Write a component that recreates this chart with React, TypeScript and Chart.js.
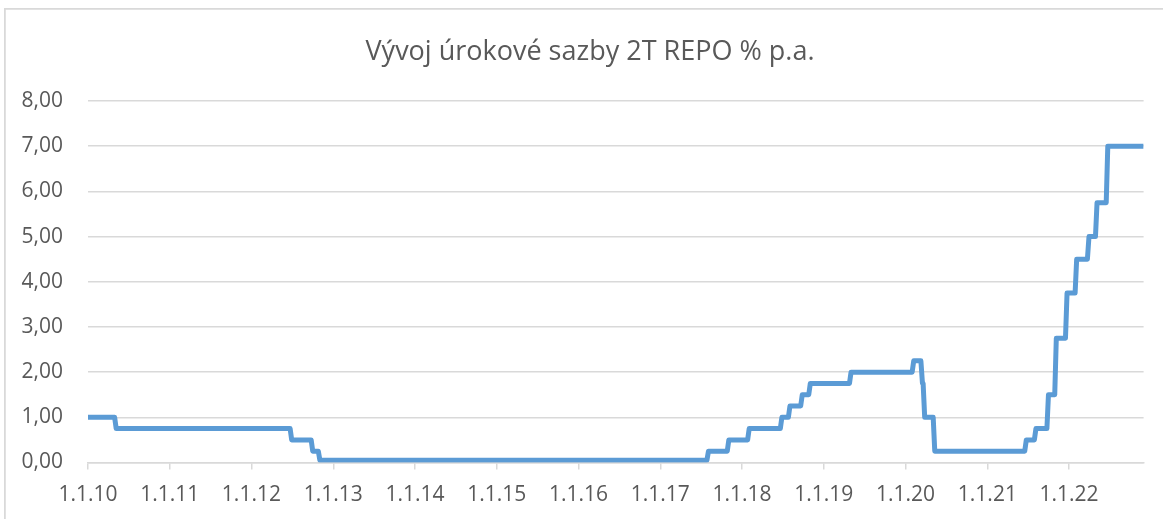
import React, { useEffect, useRef } from 'react';
import { Chart, registerables } from 'chart.js';

Chart.register(...registerables);

// ---- data ----
const chartTitle = 'Vývoj úrokové sazby 2T REPO % p.a.';
const changeDates = [
  '2010-01-01', '2010-05-07', '2012-06-29', '2012-10-01', '2012-11-02',
  '2017-08-04', '2017-11-03', '2018-02-02', '2018-06-28', '2018-08-03',
  '2018-09-27', '2018-11-02', '2019-05-03', '2020-02-07', '2020-03-17',
  '2020-03-27', '2020-05-11', '2021-06-24', '2021-08-06', '2021-10-01',
  '2021-11-05', '2021-12-23', '2022-02-04', '2022-03-31', '2022-05-06',
  '2022-06-23',
];
const repoRates = [
  1.0, 0.75, 0.5, 0.25, 0.05,
  0.25, 0.5, 0.75, 1.0, 1.25,
  1.5, 1.75, 2.0, 2.25, 1.75,
  1.0, 0.25, 0.5, 0.75, 1.5,
  2.75, 3.75, 4.5, 5.0, 5.75,
  7.0,
];
const endDate = '2022-11-30';
const yearTickDates = [
  '2010-01-01', '2011-01-01', '2012-01-01', '2013-01-01', '2014-01-01',
  '2015-01-01', '2016-01-01', '2017-01-01', '2018-01-01', '2019-01-01',
  '2020-01-01', '2021-01-01', '2022-01-01',
];
const xTickLabels = [
  '1.1.10', '1.1.11', '1.1.12', '1.1.13', '1.1.14', '1.1.15', '1.1.16',
  '1.1.17', '1.1.18', '1.1.19', '1.1.20', '1.1.21', '1.1.22',
];
const yTickValues = [0, 1, 2, 3, 4, 5, 6, 7, 8];
const yTickLabels = ['0,00', '1,00', '2,00', '3,00', '4,00', '5,00', '6,00', '7,00', '8,00'];

// ---- helpers ----
const DAY = 86400000;
const ORIGIN = Date.UTC(2010, 0, 1);
const toDay = (s: string) => {
  const [y, m, d] = s.split('-').map(Number);
  return (Date.UTC(y, m - 1, d) - ORIGIN) / DAY;
};
const STEP_LAG = 7;

function buildPoints() {
  const pts: { x: number; y: number }[] = [];
  changeDates.forEach((d, i) => {
    const x = toDay(d);
    if (i > 0) pts.push({ x: x - STEP_LAG, y: repoRates[i - 1] });
    pts.push({ x, y: repoRates[i] });
  });
  pts.push({ x: toDay(endDate), y: repoRates[repoRates.length - 1] });
  return pts;
}

const GRID = '#d9d9d9';
const TEXT = '#595959';
const FONT = "'Open Sans', 'DejaVu Sans', sans-serif";

// chart-area frame (the reference is a crop of a wider chart box) and the title,
// centred on that full chart box
const frameAndTitle = {
  id: 'frameAndTitle',
  beforeDraw(chart: any) {
    const ctx = chart.ctx;
    ctx.save();
    ctx.strokeStyle = GRID;
    ctx.lineWidth = 1.75;
    ctx.beginPath();
    ctx.moveTo(4.9, chart.height + 5);
    ctx.lineTo(4.9, 8.9);
    ctx.lineTo(chart.width + 5, 8.9);
    ctx.stroke();
    ctx.fillStyle = TEXT;
    ctx.font = `27px ${FONT}`;
    ctx.textAlign = 'center';
    ctx.textBaseline = 'alphabetic';
    ctx.fillText(chartTitle, 590, 59.5);
    ctx.restore();
  },
};

export default function App() {
  const ref = useRef<HTMLCanvasElement | null>(null);

  useEffect(() => {
    if (!ref.current) return;
    const yearTicks = yearTickDates.map(toDay);
    const chart = new Chart(ref.current, {
      type: 'line',
      data: {
        datasets: [
          {
            label: '2T REPO',
            data: buildPoints(),
            borderColor: '#5b9bd5',
            backgroundColor: '#5b9bd5',
            borderWidth: 5,
            pointRadius: 0,
            tension: 0,
            borderJoinStyle: 'round',
            fill: false,
          },
        ],
      },
      options: {
        animation: false,
        responsive: false,
        devicePixelRatio: 1,
        layout: { padding: { left: 0, right: 19.4, top: 101, bottom: 0 } },
        plugins: {
          legend: { display: false },
          tooltip: { enabled: false },
          title: { display: false },
        },
        scales: {
          x: {
            type: 'linear',
            min: 0,
            max: toDay(endDate),
            afterBuildTicks: (scale: any) => {
              scale.ticks = yearTicks.map((v) => ({ value: v }));
            },
            afterFit: (scale: any) => {
              scale.height = 56.5;
            },
            ticks: {
              autoSkip: false,
              maxRotation: 0,
              color: TEXT,
              padding: 13,
              font: { family: FONT, size: 21 },
              callback: (_v: any, i: number) => xTickLabels[i],
            },
            grid: {
              drawOnChartArea: false,
              drawTicks: true,
              tickLength: 7,
              color: GRID,
              lineWidth: 1.5,
            },
            border: { display: true, color: GRID, width: 1.5 },
          },
          y: {
            min: 0,
            max: 8,
            afterBuildTicks: (scale: any) => {
              scale.ticks = yTickValues.map((v) => ({ value: v }));
            },
            afterFit: (scale: any) => {
              scale.width = 88;
            },
            ticks: {
              color: TEXT,
              padding: 25,
              font: { family: FONT, size: 21 },
              callback: (_v: any, i: number) => yTickLabels[i],
            },
            grid: { color: GRID, lineWidth: 1.5, drawTicks: false },
            border: { display: false },
          },
        },
      },
      plugins: [frameAndTitle],
    });
    return () => chart.destroy();
  }, []);

  return (
    <div style={{ position: 'absolute', left: 0, top: 0, width: 1163, height: 519, background: '#fff' }}>
      <canvas ref={ref} width={1163} height={519} style={{ width: 1163, height: 519, display: 'block' }} />
    </div>
  );
}
